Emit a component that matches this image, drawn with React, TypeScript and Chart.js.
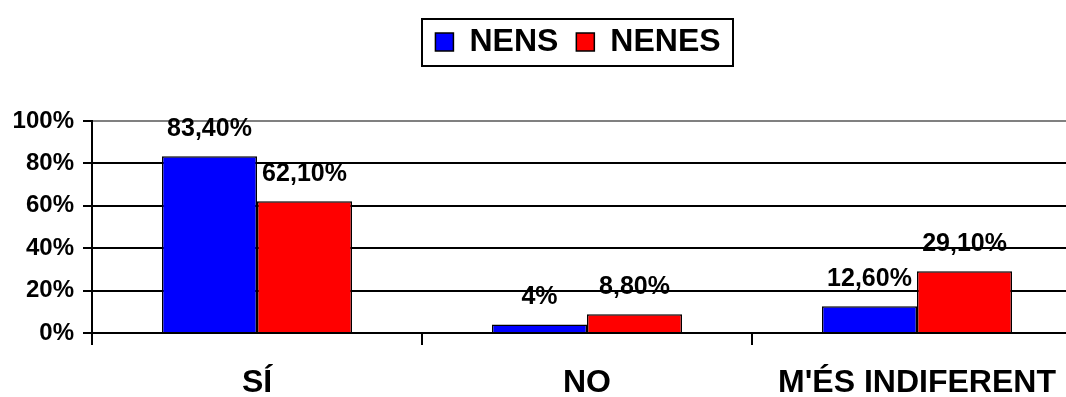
import React, { useEffect, useRef } from "react";
import { Chart, registerables } from "chart.js";

Chart.register(...registerables);

const categories = ["SÍ", "NO", "M'ÉS INDIFERENT"];
const nensValues = [0.834, 0.04, 0.126];
const nenesValues = [0.621, 0.088, 0.291];
const nensLabels = ["83,40%", "4%", "12,60%"];
const nenesLabels = ["62,10%", "8,80%", "29,10%"];
const yTickLabels = ["0%", "20%", "40%", "60%", "80%", "100%"];

const FONT = "'Liberation Sans', Arial, sans-serif";
const LEGEND_SHIFT = 37;

const labelPlugin = {
  id: "barLabels",
  afterDatasetsDraw(chart: any) {
    const ctx = chart.ctx;
    const all = [nensLabels, nenesLabels];
    ctx.save();
    ctx.font = `bold 25px ${FONT}`;
    ctx.fillStyle = "#000";
    ctx.textAlign = "center";
    ctx.textBaseline = "middle";
    chart.data.datasets.forEach((_: any, di: number) => {
      const meta = chart.getDatasetMeta(di);
      meta.data.forEach((el: any, i: number) => {
        ctx.fillText(all[di][i], el.x, el.y - 27);
      });
    });
    ctx.restore();
  },
};

const legendPlugin = {
  id: "legendBox",
  afterUpdate(chart: any) {
    const lg = chart.legend;
    if (!lg) return;
    lg.left += LEGEND_SHIFT;
    lg.right += LEGEND_SHIFT;
    (lg.legendHitBoxes || []).forEach((h: any) => {
      h.left += LEGEND_SHIFT;
    });
  },
  afterDraw(chart: any) {
    const lg = chart.legend;
    if (!lg || !lg.legendHitBoxes || !lg.legendHitBoxes.length) return;
    const hbs = lg.legendHitBoxes;
    let l = Infinity, r = -Infinity, t = Infinity, b = -Infinity;
    hbs.forEach((h: any) => {
      l = Math.min(l, h.left);
      r = Math.max(r, h.left + h.width);
      t = Math.min(t, h.top);
      b = Math.max(b, h.top + h.height);
    });
    const cy = (t + b) / 2;
    const ctx = chart.ctx;
    ctx.save();
    ctx.strokeStyle = "#000";
    ctx.lineWidth = 2;
    ctx.strokeRect(Math.round(l - 13), Math.round(cy - 23.5), Math.round(r - l + 26), 47);
    ctx.restore();
  },
};

export default function App() {
  const ref = useRef<HTMLCanvasElement>(null);
  useEffect(() => {
    if (!ref.current) return;
    const chart = new Chart(ref.current, {
      type: "bar",
      data: {
        labels: categories,
        datasets: [
          {
            label: "NENS",
            data: nensValues,
            backgroundColor: "#0000FF",
            borderColor: "#000",
            borderWidth: 1.5,
            categoryPercentage: 0.576,
            barPercentage: 1,
          },
          {
            label: "NENES",
            data: nenesValues,
            backgroundColor: "#FF0000",
            borderColor: "#000",
            borderWidth: 1.5,
            categoryPercentage: 0.576,
            barPercentage: 1,
          },
        ],
      },
      options: {
        responsive: false,
        animation: false,
        layout: { padding: { top: 8, right: 8, left: 0, bottom: 0 } },
        plugins: {
          tooltip: { enabled: false },
          legend: {
            display: true,
            position: "top",
            labels: {
              color: "#000",
              font: { family: FONT, size: 32, weight: "bold" },
              boxWidth: 18,
              boxHeight: 18,
              padding: 18,
            },
          },
        },
        scales: {
          x: {
            afterFit: (s: any) => {
              s.height = 64;
            },
            grid: {
              display: true,
              drawOnChartArea: false,
              drawTicks: true,
              tickLength: 12,
              color: "#000",
              lineWidth: 2,
              offset: true,
            },
            border: { display: true, color: "#000", width: 2 },
            ticks: {
              color: "#000",
              font: { family: FONT, size: 32, weight: "bold" },
              padding: 19,
              maxRotation: 0,
            },
          },
          spacer: {
            type: "category",
            position: "top",
            display: true,
            afterFit: (s: any) => {
              s.height = 53;
            },
            grid: { display: false },
            border: { display: false },
            ticks: { display: false },
          },
          y: {
            min: 0,
            max: 1,
            afterFit: (s: any) => {
              s.width = 92;
            },
            grid: {
              color: (c: any) => (c.tick && c.tick.value === 1 ? "#808080" : "#000"),
              tickColor: "#000",
              lineWidth: 2,
              tickLength: 9,
            },
            border: { display: true, color: "#000", width: 2 },
            ticks: {
              stepSize: 0.2,
              color: "#000",
              padding: 9,
              font: { family: FONT, size: 24, weight: "bold" },
              callback: (_v: any, i: number) => yTickLabels[i],
            },
          },
        },
      },
      plugins: [labelPlugin, legendPlugin],
    });
    return () => chart.destroy();
  }, []);
  return (
    <div
      style={{
        position: "fixed",
        left: 0,
        top: 0,
        width: 1066,
        height: 397,
        overflow: "hidden",
        background: "#fff",
      }}
    >
      <canvas ref={ref} width={1090} height={397} style={{ display: "block" }} />
    </div>
  );
}
